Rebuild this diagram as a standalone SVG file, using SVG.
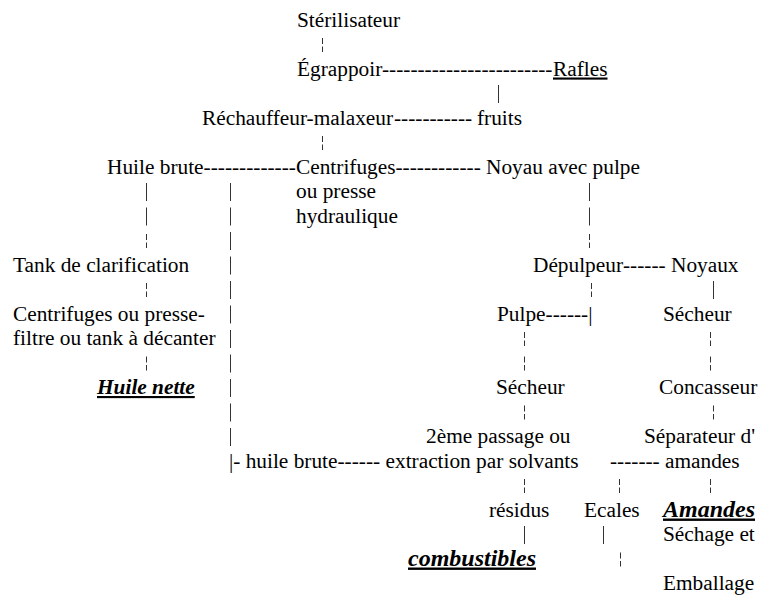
<svg xmlns="http://www.w3.org/2000/svg" width="761" height="608" viewBox="0 0 761 608">
<style>
text{font-family:"Liberation Serif","Times New Roman",serif;font-size:21.33px;fill:#000}
.bi{font-weight:bold;font-style:italic;text-decoration:underline}
.big{font-size:24px}
.u{text-decoration:underline}
.p{stroke:#333;stroke-width:1}
.b{stroke:#333;stroke-width:1;stroke-dasharray:6 2.5 6}
</style>
<rect width="761" height="608" fill="#fff"/>
<g id="connectors">
<line class="b" x1="322.5" y1="38" x2="322.5" y2="52"/>
<text x="382" y="75.5">------------------------</text>
<line class="p" x1="498.5" y1="85" x2="498.5" y2="103"/>
<text x="394" y="124.5">-----------</text>
<line class="b" x1="322.5" y1="136" x2="322.5" y2="150"/>
<text x="203.6" y="173.5">-------------</text>
<text x="395.5" y="173.5">------------</text>
<line class="p" x1="146.5" y1="183" x2="146.5" y2="201"/>
<line class="p" x1="146.5" y1="207.5" x2="146.5" y2="225.5"/>
<line class="b" x1="146.5" y1="234" x2="146.5" y2="248"/>
<line class="b" x1="146.5" y1="283" x2="146.5" y2="297"/>
<line class="b" x1="146.5" y1="356.5" x2="146.5" y2="370.5"/>
<line class="p" x1="230.5" y1="183" x2="230.5" y2="201"/>
<line class="p" x1="230.5" y1="207.5" x2="230.5" y2="225.5"/>
<line class="p" x1="230.5" y1="232" x2="230.5" y2="250"/>
<line class="p" x1="230.5" y1="256.5" x2="230.5" y2="274.5"/>
<line class="p" x1="230.5" y1="281" x2="230.5" y2="299"/>
<line class="p" x1="230.5" y1="305.5" x2="230.5" y2="323.5"/>
<line class="p" x1="230.5" y1="330" x2="230.5" y2="348"/>
<line class="p" x1="230.5" y1="354.5" x2="230.5" y2="372.5"/>
<line class="p" x1="230.5" y1="379" x2="230.5" y2="397"/>
<line class="p" x1="230.5" y1="403.5" x2="230.5" y2="421.5"/>
<line class="p" x1="230.5" y1="428" x2="230.5" y2="446"/>
<line class="p" x1="589.5" y1="183" x2="589.5" y2="201"/>
<line class="p" x1="589.5" y1="207.5" x2="589.5" y2="225.5"/>
<line class="b" x1="589.5" y1="234" x2="589.5" y2="248"/>
<text x="623" y="271.5">------</text>
<line class="b" x1="591.5" y1="283" x2="591.5" y2="297"/>
<line class="p" x1="713.5" y1="281" x2="713.5" y2="299"/>
<text x="545.6" y="320.5">------|</text>
<line class="b" x1="524.5" y1="332" x2="524.5" y2="346"/>
<line class="b" x1="524.5" y1="356.5" x2="524.5" y2="370.5"/>
<line class="b" x1="710.5" y1="332" x2="710.5" y2="346"/>
<line class="b" x1="710.5" y1="356.5" x2="710.5" y2="370.5"/>
<line class="b" x1="524.5" y1="405.5" x2="524.5" y2="419.5"/>
<line class="b" x1="713.5" y1="405.5" x2="713.5" y2="419.5"/>
<text x="229" y="467.5">|-</text>
<text x="337.5" y="467.5">------</text>
<text x="610" y="467.5">-------</text>
<line class="b" x1="524.5" y1="479" x2="524.5" y2="493"/>
<line class="b" x1="619.5" y1="479" x2="619.5" y2="493"/>
<line class="b" x1="710.5" y1="479" x2="710.5" y2="493"/>
<line class="p" x1="524.5" y1="526" x2="524.5" y2="544"/>
<line class="p" x1="603.5" y1="526" x2="603.5" y2="544"/>
<line class="b" x1="620.5" y1="552.5" x2="620.5" y2="566.5"/>
</g>
<g id="sterilisateur"><text x="297" y="26.5">Stérilisateur</text></g>
<g id="egrappoir"><text x="297" y="75.5">Égrappoir</text></g>
<g id="rafles"><text class="u" x="553" y="75.5">Rafles</text></g>
<g id="rechauffeur"><text x="202" y="124.5">Réchauffeur-malaxeur</text></g>
<g id="fruits"><text x="477" y="124.5">fruits</text></g>
<g id="huile-brute"><text x="107" y="173.5">Huile brute</text></g>
<g id="centrifuges"><text x="296" y="173.5">Centrifuges</text><text x="296" y="198">ou presse</text><text x="296" y="222.5">hydraulique</text></g>
<g id="noyau-pulpe"><text x="486" y="173.5">Noyau avec pulpe</text></g>
<g id="tank"><text x="13" y="271.5">Tank de clarification</text></g>
<g id="depulpeur"><text x="533" y="271.5">Dépulpeur</text></g>
<g id="noyaux"><text x="671" y="271.5">Noyaux</text></g>
<g id="centrifuges-filtre"><text x="13" y="320.5">Centrifuges ou presse-</text><text x="13" y="345">filtre ou tank à décanter</text></g>
<g id="pulpe"><text x="497" y="320.5">Pulpe</text></g>
<g id="secheur-noyaux"><text x="663" y="320.5">Sécheur</text></g>
<g id="huile-nette"><text class="bi" x="97" y="394">Huile nette</text></g>
<g id="secheur-pulpe"><text x="496" y="394">Sécheur</text></g>
<g id="concasseur"><text x="659" y="394">Concasseur</text></g>
<g id="extraction"><text x="426" y="443">2ème passage ou</text><text x="385.5" y="467.5">extraction par solvants</text></g>
<g id="separateur"><text x="644" y="443">Séparateur d'</text><text x="665" y="467.5">amandes</text></g>
<g id="huile-brute-2"><text x="245.7" y="467.5">huile brute</text></g>
<g id="residus"><text x="489" y="516.5">résidus</text></g>
<g id="ecales"><text x="584" y="516.5">Ecales</text></g>
<g id="amandes"><text class="bi big" x="663" y="516.5">Amandes</text></g>
<g id="sechage"><text x="663" y="541">Séchage et</text><text x="663" y="590">Emballage</text></g>
<g id="combustibles"><text class="bi big" x="408" y="565.5">combustibles</text></g>
</svg>
